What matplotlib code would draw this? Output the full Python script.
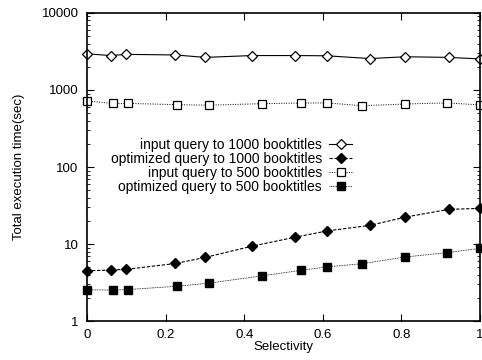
import matplotlib
matplotlib.use("Agg")
import matplotlib.pyplot as plt
import numpy as np

plt.rcParams['font.family'] = ['Liberation Sans', 'DejaVu Sans']

# selectivity values for the two data sizes
sel_1000 = [0, 0.06, 0.10, 0.225, 0.30, 0.42, 0.53, 0.61, 0.72, 0.81, 0.92, 1.0]
sel_500 = [0, 0.065, 0.105, 0.23, 0.31, 0.445, 0.545, 0.61, 0.70, 0.81, 0.915, 1.0]

# execution times (sec)
input_1000 = [2950, 2800, 2900, 2850, 2650, 2800, 2800, 2780, 2560, 2700, 2650, 2530]
opt_1000 = [4.5, 4.6, 4.7, 5.6, 6.7, 9.4, 12.3, 14.8, 17.5, 22.4, 28.2, 29.1]
input_500 = [720, 670, 670, 645, 635, 665, 678, 680, 625, 658, 680, 640]
opt_500 = [2.55, 2.53, 2.57, 2.84, 3.11, 3.87, 4.57, 5.05, 5.57, 6.8, 7.73, 8.8]

fig = plt.figure(figsize=(4.82, 3.6), dpi=100)
ax = fig.add_axes([0.1805, 0.108, 0.8155, 0.856])

ax.plot(sel_1000, input_1000, color='black', lw=0.8, ls='-', marker='D', ms=5.5,
        mfc='white', mec='black', mew=0.9, label='input query to 1000 booktitles', clip_on=False)
ax.plot(sel_1000, opt_1000, color='black', lw=0.8, ls=(0, (3, 1.5)), marker='D', ms=5.5,
        mfc='black', mec='black', label='optimized query to 1000 booktitles', clip_on=False)
ax.plot(sel_500, input_500, color='black', lw=0.7, ls=(0, (1, 1.5)), marker='s', ms=6,
        mfc='white', mec='black', mew=0.9, label='input query to 500 booktitles', clip_on=False)
ax.plot(sel_500, opt_500, color='black', lw=0.6, ls=(0, (1, 1)), marker='s', ms=6,
        mfc='black', mec='black', label='optimized query to 500 booktitles', clip_on=False)

ax.set_yscale('log')
ax.set_xlim(0, 1)
ax.set_ylim(1, 10000)
ax.set_xticks([0, 0.2, 0.4, 0.6, 0.8, 1])
ax.set_xticklabels(['0', '0.2', '0.4', '0.6', '0.8', '1'])
ax.set_yticks([1, 10, 100, 1000, 10000])
ax.set_yticklabels(['1', '10', '100', '1000', '10000'])
ax.tick_params(direction='in', which='both', top=True, right=True, labelsize=9.5)
ax.tick_params(which='major', length=5, width=0.8, pad=6)
ax.tick_params(which='minor', length=2.5, width=0.6)
for s in ax.spines.values():
    s.set_linewidth(1.2)

ax.set_xlabel('Selectivity', fontsize=9.5, labelpad=0)
ax.set_ylabel('Total execution time(sec)', fontsize=9.5, labelpad=12)

leg = ax.legend(loc='upper right', bbox_to_anchor=(0.70, 0.625), frameon=False,
                markerfirst=False, fontsize=10, handlelength=1.7, handletextpad=0.5,
                labelspacing=0.0, borderpad=0.2)
leg._legend_box.align = 'right'

fig.savefig('out.png', dpi=100)
